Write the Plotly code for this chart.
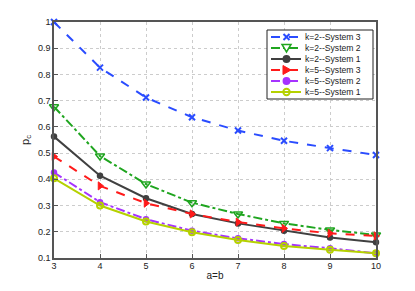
import plotly.graph_objects as go

ab = [3, 4, 5, 6, 7, 8, 9, 10]
k2_sys3 = [1.0, 0.826, 0.712, 0.637, 0.586, 0.547, 0.519, 0.493]
k2_sys2 = [0.677, 0.489, 0.382, 0.311, 0.268, 0.232, 0.207, 0.188]
k2_sys1 = [0.563, 0.414, 0.328, 0.268, 0.232, 0.204, 0.178, 0.160]
k5_sys3 = [0.487, 0.375, 0.309, 0.268, 0.237, 0.213, 0.194, 0.184]
k5_sys2 = [0.426, 0.313, 0.248, 0.204, 0.175, 0.153, 0.137, 0.118]
k5_sys1 = [0.404, 0.300, 0.239, 0.198, 0.169, 0.146, 0.131, 0.118]

names = ["k=2--System 3", "k=2--System 2", "k=2--System 1",
         "k=5--System 3", "k=5--System 2", "k=5--System 1"]
series = [k2_sys3, k2_sys2, k2_sys1, k5_sys3, k5_sys2, k5_sys1]
colors = ["#2a4cff", "#1fa51f", "#404040", "#ff1a1a", "#a633ff", "#b5d100"]
dashes = ["dash", "dashdot", "solid", "dash", "dashdot", "solid"]
symbols = ["x-thin-open", "triangle-down-open", "circle", "triangle-right", "circle", "circle-open"]
msizes = [6, 8, 5, 7, 5, 6]
mlw = [2, 1.5, 1.5, 1, 1.5, 2]

# page geometry: the browser adds an 8px body margin, so compensate
OFF = 8
W, H = 415, 291
PL, PT, PW, PH = 54, 22, 322, 236          # plot area in page pixels
L, T = PL - OFF, PT - OFF
R, B = W - L - PW, H - T - PH


def px(x):
    return (x - PL) / PW


def py(y):
    return (PT + PH - y) / PH


def path(points, close=True):
    s = "M " + " L ".join(f"{px(a):.5f},{py(b):.5f}" for a, b in points)
    return s + (" Z" if close else "")


fig = go.Figure()
for n, s, c, d, sym, ms, lw in zip(names, series, colors, dashes, symbols, msizes, mlw):
    fig.add_trace(go.Scatter(
        x=ab, y=s, name=n, mode="lines+markers",
        line=dict(color=c, dash=d, width=2),
        marker=dict(symbol=sym, size=ms, color=c, line=dict(color=c, width=lw)),
        cliponaxis=False, showlegend=False,
    ))

# ---- compact legend built from shapes + annotations ----
shapes = [dict(type="rect", xref="paper", yref="paper",
               x0=px(267), x1=px(373), y0=py(99), y1=py(30),
               fillcolor="white", line=dict(color="#222", width=1), layer="above")]
annotations = []
MX = 286.5
for i, (n, c, d, sym) in enumerate(zip(names, colors, dashes, symbols)):
    yc = 37 + 11 * i
    shapes.append(dict(type="line", xref="paper", yref="paper",
                       x0=px(271), x1=px(301), y0=py(yc), y1=py(yc),
                       line=dict(color=c, width=2, dash=d), layer="above"))
    if sym == "x-thin-open":
        shapes.append(dict(type="path", xref="paper", yref="paper", layer="above",
                           path=path([(MX - 3, yc - 3), (MX + 3, yc + 3)], False) + " " +
                           path([(MX - 3, yc + 3), (MX + 3, yc - 3)], False),
                           line=dict(color=c, width=2)))
    elif sym == "triangle-down-open":
        shapes.append(dict(type="path", xref="paper", yref="paper", layer="above",
                           path=path([(MX - 4.5, yc - 3.5), (MX + 4.5, yc - 3.5), (MX, yc + 4)]),
                           fillcolor="white", line=dict(color=c, width=1.5)))
    elif sym == "triangle-right":
        shapes.append(dict(type="path", xref="paper", yref="paper", layer="above",
                           path=path([(MX - 3.5, yc - 4.5), (MX - 3.5, yc + 4.5), (MX + 4.5, yc)]),
                           fillcolor=c, line=dict(color=c, width=1)))
    else:
        r = 3.2
        shapes.append(dict(type="circle", xref="paper", yref="paper", layer="above",
                           x0=px(MX - r), x1=px(MX + r), y0=py(yc + r), y1=py(yc - r),
                           fillcolor=(c if sym == "circle" else "rgba(0,0,0,0)"),
                           line=dict(color=c, width=(1.5 if sym == "circle" else 2))))
    annotations.append(dict(xref="paper", yref="paper", x=px(303), y=py(yc),
                            xanchor="left", yanchor="middle", showarrow=False,
                            text=n, font=dict(size=8.6, color="#222")))

axis_common = dict(
    showline=True, linecolor="#555", linewidth=1.5, mirror=True,
    ticks="inside", ticklen=4, tickcolor="#555", automargin=False,
    showgrid=True, gridcolor="#cccccc", griddash="dot", gridwidth=1,
    zeroline=False, tickfont=dict(family="Liberation Sans, Arial", size=9, color="#222"),
)

fig.update_layout(
    width=W, height=H,
    margin=dict(l=L, r=R, t=T, b=B, autoexpand=False),
    plot_bgcolor="white", paper_bgcolor="white",
    font=dict(family="Liberation Sans, Arial", size=9, color="#222"),
    xaxis=dict(range=[3, 10], tickvals=ab, ticklabelstandoff=-2,
               title=dict(text="a=b", standoff=2, font=dict(size=10)), **axis_common),
    yaxis=dict(range=[0.1, 1], tickvals=[0.1, 0.2, 0.3, 0.4, 0.5, 0.6, 0.7, 0.8, 0.9, 1],
               ticktext=["0.1", "0.2", "0.3", "0.4", "0.5", "0.6", "0.7", "0.8", "0.9", "1"],
               title=dict(text="p<sub>c</sub>", standoff=6, font=dict(size=11)), **axis_common),
    shapes=shapes,
    annotations=annotations,
    showlegend=False,
)

fig.write_html("out.html")
